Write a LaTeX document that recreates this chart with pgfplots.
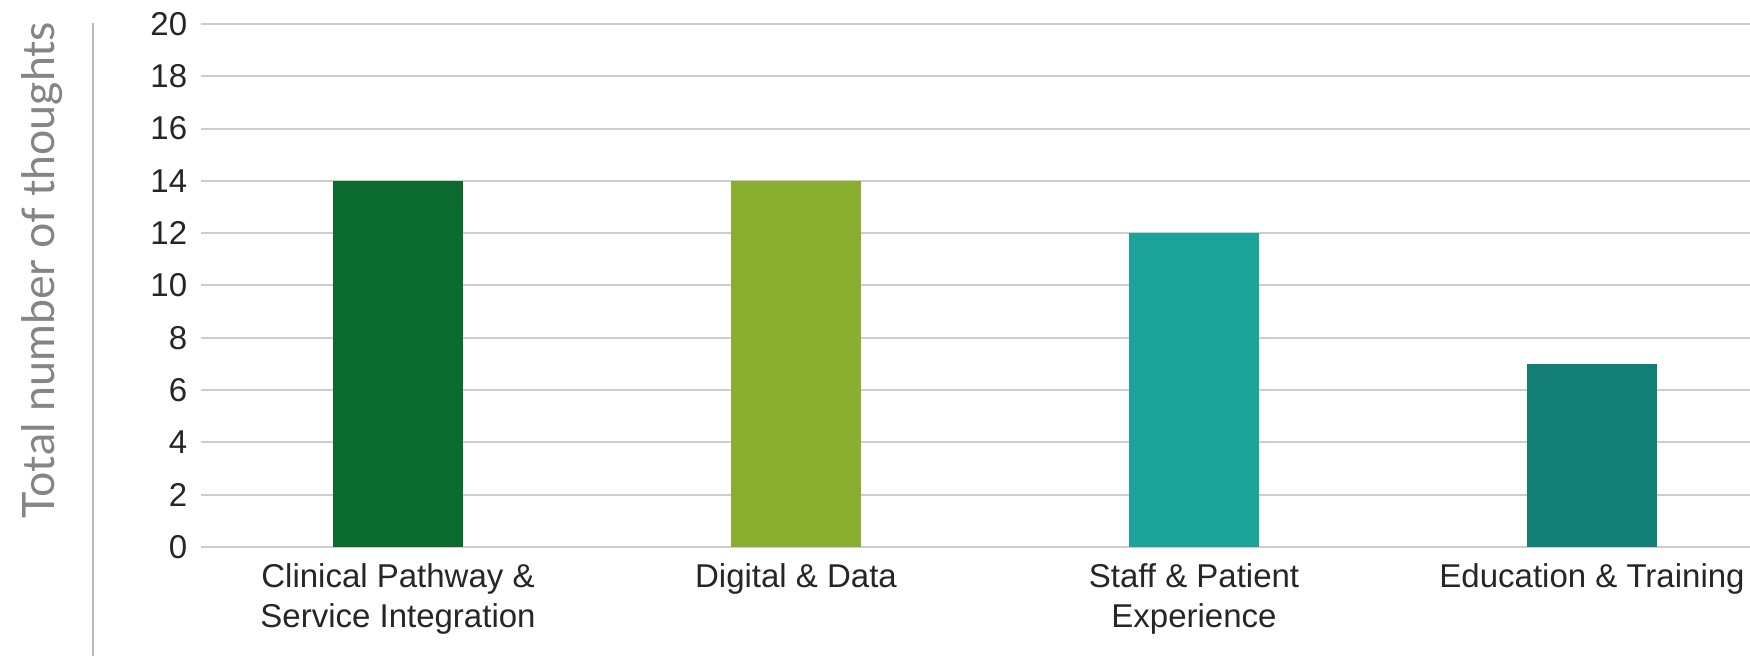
\documentclass[border=0pt]{standalone}
\usepackage{pgfplots}
\pgfplotsset{compat=1.18}
\usepackage{fontspec}
\setmainfont{Liberation Sans}
\newfontfamily\latofont{Lato}
\definecolor{cpsi}{RGB}{11,107,46}
\definecolor{dd}{RGB}{138,174,48}
\definecolor{spe}{RGB}{28,164,155}
\definecolor{et}{RGB}{20,128,117}
\definecolor{gridgray}{RGB}{205,205,205}
\begin{document}
\begin{tikzpicture}
  \useasboundingbox (0,0) rectangle (700bp,262.4bp);
  % left frame line and axis title
  \draw[gridgray!90!black, line width=0.8bp] (37.2bp,0) -- (37.2bp,253.2bp);
  \node[rotate=90, text=black!48, font=\latofont\fontsize{17.9bp}{20bp}\selectfont]
    at (16.8bp,154.4bp) {Total number of thoughts};
  \begin{axis}[
    at={(80.4bp,43.6bp)}, anchor=south west,
    scale only axis,
    width=619.6bp, height=209.2bp,
    xmin=-0.495, xmax=3.397,
    ymin=0, ymax=20,
    ytick={0,2,...,20},
    xtick={0,1,2,3},
    xticklabels={{Clinical Pathway \&\\Service Integration},{Digital \& Data},{Staff \& Patient\\Experience},{Education \& Training}},
    ybar, bar width=52bp, bar shift=0pt,
    ymajorgrids,
    grid style={gridgray, line width=0.8bp},
    axis line style={draw=none},
    major tick length=0pt,
    /pgf/number format/assume math mode=true,
    tick label style={font=\fontsize{13.2bp}{16bp}\selectfont, text=black!85},
    yticklabel style={xshift=-2bp},
    xticklabel style={align=center, yshift=-3.2bp},
  ]
    \addplot[fill=cpsi, draw=none] coordinates {(0,14)};
    \addplot[fill=dd, draw=none] coordinates {(1,14)};
    \addplot[fill=spe, draw=none] coordinates {(2,12)};
    \addplot[fill=et, draw=none] coordinates {(3,7)};
  \end{axis}
\end{tikzpicture}
\end{document}
